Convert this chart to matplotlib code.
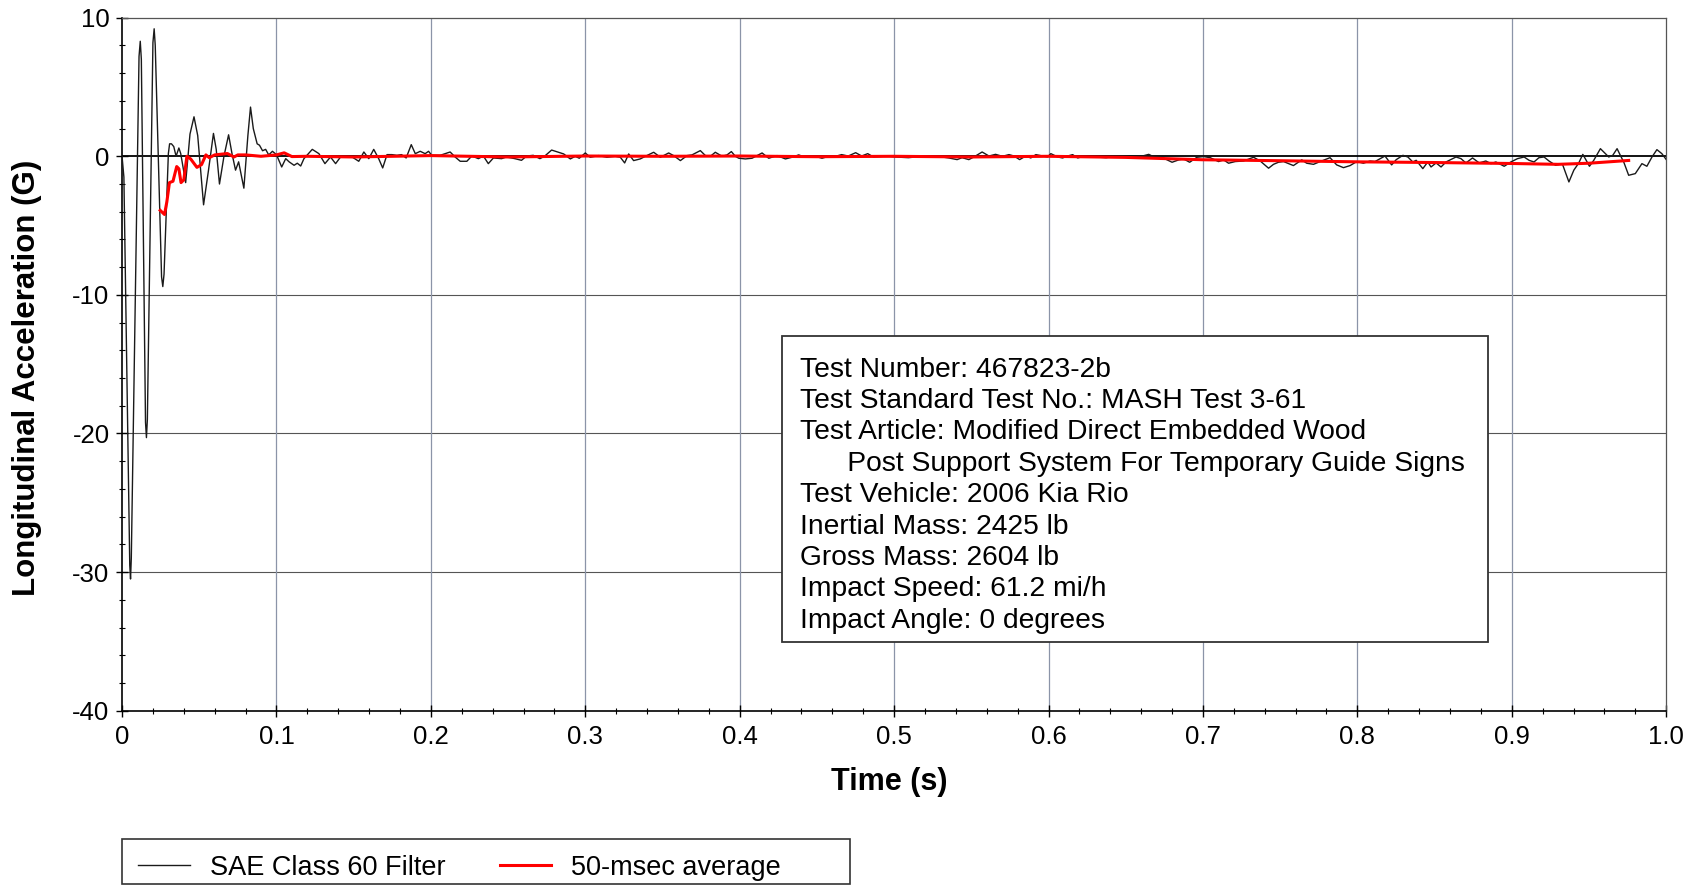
import matplotlib.pyplot as plt
from matplotlib.patches import Rectangle
from matplotlib.ticker import MultipleLocator, FixedLocator

plt.rcParams['font.family'] = ['Liberation Sans', 'DejaVu Sans']
plt.rcParams['axes.unicode_minus'] = False

# --------DATA--------

# SAE Class 60 filtered signal
t_sae = [0.0, 0.0012, 0.0050, 0.0055, 0.0060, 0.0110, 0.0118, 0.0125, 0.0152, 0.0158,
         0.0164, 0.0200, 0.0208, 0.0215, 0.0256, 0.0264, 0.0272, 0.0300, 0.0308, 0.0320,
         0.0335, 0.0350, 0.0368, 0.0380, 0.0412, 0.0440, 0.0466, 0.0490, 0.0528, 0.0560,
         0.0592, 0.0610, 0.0631, 0.0660, 0.0690, 0.0712, 0.0735, 0.0755, 0.0789, 0.0815,
         0.0832, 0.0850, 0.0875, 0.0890, 0.0910, 0.0930, 0.0950, 0.0974, 0.1000, 0.1034,
         0.1060, 0.1082, 0.1114, 0.1135, 0.1157, 0.1178, 0.1232, 0.1275, 0.1314, 0.1350,
         0.1383, 0.1415, 0.1447, 0.1490, 0.1533, 0.1566, 0.1598, 0.1630, 0.1662, 0.1688,
         0.1716, 0.1748, 0.1780, 0.1810, 0.1840, 0.1873, 0.1899, 0.1931, 0.1963, 0.1985,
         0.2006, 0.2060, 0.2125, 0.2157, 0.2190, 0.2233, 0.2265, 0.2308, 0.2340, 0.2372,
         0.2405, 0.2458, 0.2490, 0.2544, 0.2587, 0.2620, 0.2663, 0.2706, 0.2738, 0.2782,
         0.2827, 0.2860, 0.2903, 0.2935, 0.2961, 0.3000, 0.3032, 0.3086, 0.3140, 0.3194,
         0.3227, 0.3255, 0.3281, 0.3313, 0.3356, 0.3389, 0.3443, 0.3486, 0.3540, 0.3572,
         0.3616, 0.3659, 0.3691, 0.3745, 0.3778, 0.3810, 0.3842, 0.3886, 0.3918, 0.3946,
         0.3972, 0.3994, 0.4037, 0.4080, 0.4145, 0.4188, 0.4242, 0.4296, 0.4339, 0.4382,
         0.4425, 0.4490, 0.4533, 0.4577, 0.4605, 0.4660, 0.4703, 0.4751, 0.4790, 0.4829,
         0.4866, 0.4952, 0.5007, 0.5093, 0.5137, 0.5223, 0.5310, 0.5354, 0.5408, 0.5440,
         0.5484, 0.5527, 0.5570, 0.5614, 0.5657, 0.5701, 0.5744, 0.5777, 0.5813, 0.5852,
         0.5885, 0.5918, 0.5961, 0.5993, 0.6015, 0.6059, 0.6091, 0.6124, 0.6156, 0.6189,
         0.6232, 0.6308, 0.6373, 0.6438, 0.6595, 0.6649, 0.6692, 0.6746, 0.6800, 0.6843,
         0.6875, 0.6914, 0.6961, 0.7004, 0.7047, 0.7101, 0.7134, 0.7166, 0.7209, 0.7263,
         0.7328, 0.7371, 0.7425, 0.7457, 0.7489, 0.7522, 0.7586, 0.7640, 0.7672, 0.7716,
         0.7759, 0.7823, 0.7866, 0.7910, 0.7953, 0.7996, 0.8039, 0.8082, 0.8114, 0.8179,
         0.8222, 0.8252, 0.8295, 0.8327, 0.8359, 0.8381, 0.8424, 0.8456, 0.8477, 0.8510,
         0.8542, 0.8574, 0.8639, 0.8671, 0.8703, 0.8746, 0.8789, 0.8832, 0.8865, 0.8897,
         0.8951, 0.8994, 0.9037, 0.9080, 0.9112, 0.9144, 0.9176, 0.9209, 0.9241, 0.9284,
         0.9327, 0.9370, 0.9402, 0.9434, 0.9460, 0.9482, 0.9503, 0.9531, 0.9574, 0.9606,
         0.9628, 0.9654, 0.9682, 0.9703, 0.9725, 0.9757, 0.9800, 0.9843, 0.9875, 0.9908,
         0.9940, 0.9972, 1.0004]
g_sae = [0.0, -1.5, -29.5, -30.5, -29.0, 7.2, 8.3, 7.0, -19.2, -20.3,
         -19.0, 8.2, 9.2, 8.0, -8.7, -9.4, -8.5, 0.2, 0.9, 0.9,
         0.7, 0.0, 0.6, 0.2, -1.9, 1.6, 2.85, 1.5, -3.5, -1.0,
         1.65, 0.5, -2.0, 0.0, 1.55, 0.2, -1.0, -0.4, -2.3, 1.5,
         3.55, 2.0, 0.9, 0.8, 0.4, 0.5, 0.1, 0.36, 0.12, -0.77,
         -0.17, -0.4, -0.65, -0.5, -0.7, -0.17, 0.5, 0.19, -0.53, -0.05,
         -0.53, -0.05, 0.02, -0.05, -0.36, 0.31, -0.17, 0.5, -0.17, -0.84,
         0.12, 0.12, 0.07, 0.12, -0.12, 0.84, 0.19, 0.36, 0.19, 0.36,
         0.07, 0.07, 0.31, -0.05, -0.36, -0.36, 0.02, -0.17, 0.02, -0.53,
         -0.12, -0.17, -0.05, -0.17, -0.29, 0.02, 0.07, -0.17, 0.02, 0.45,
         0.29, 0.17, -0.19, 0.0, -0.14, 0.24, -0.07, 0.05, -0.07, 0.0,
         -0.07, -0.48, 0.17, -0.31, -0.19, 0.0, 0.29, -0.07, 0.24, 0.05,
         -0.31, 0.05, 0.1, 0.41, 0.05, 0.0, 0.29, 0.0, 0.1, 0.34,
         0.0, -0.14, -0.19, -0.14, 0.24, -0.14, 0.05, -0.19, -0.07, 0.1,
         -0.07, 0.0, -0.14, 0.0, -0.05, 0.12, 0.02, 0.26, 0.02, 0.19,
         -0.05, 0.02, -0.05, -0.1, -0.05, 0.0, -0.05, -0.12, -0.24, -0.1,
         -0.24, 0.02, 0.31, 0.02, 0.14, 0.0, 0.12, 0.02, -0.24, 0.02,
         -0.12, 0.12, 0.02, -0.05, 0.19, -0.05, -0.12, 0.02, 0.12, -0.12,
         0.02, -0.05, -0.1, 0.02, -0.02, 0.14, -0.1, -0.14, -0.43, -0.26,
         -0.19, -0.43, -0.07, -0.02, -0.1, -0.38, -0.26, -0.5, -0.38, -0.34,
         -0.07, -0.34, -0.86, -0.58, -0.43, -0.38, -0.67, -0.26, -0.5, -0.58,
         -0.38, -0.1, -0.62, -0.82, -0.67, -0.38, -0.5, -0.34, -0.38, 0.02,
         -0.62, -0.24, 0.07, -0.05, -0.41, -0.29, -0.89, -0.41, -0.77, -0.48,
         -0.77, -0.41, -0.05, -0.17, -0.48, -0.12, -0.48, -0.34, -0.53, -0.41,
         -0.72, -0.41, -0.17, -0.05, -0.29, -0.41, -0.1, -0.05, -0.34, -0.65,
         -0.53, -1.85, -1.0, -0.48, 0.14, -0.29, -0.72, -0.29, 0.55, 0.19,
         -0.05, 0.07, 0.55, 0.07, -0.41, -1.37, -1.25, -0.53, -0.72, -0.05,
         0.48, 0.19, -0.29]

# 50-msec moving average
t_avg = [0.0247, 0.0275, 0.0290, 0.0307, 0.0330, 0.0354, 0.0368, 0.0382, 0.0400, 0.0420,
         0.0445, 0.0485, 0.0515, 0.0543, 0.0565, 0.0600, 0.0682, 0.0725, 0.0750, 0.0800,
         0.0900, 0.0950, 0.1000, 0.1050, 0.1100, 0.1200, 0.1500, 0.2000, 0.2500, 0.3000,
         0.3500, 0.4000, 0.4500, 0.5000, 0.5500, 0.6000, 0.6500, 0.7000, 0.7500, 0.8000,
         0.8500, 0.9000, 0.9300, 0.9500, 0.9757]
g_avg = [-3.9, -4.2, -3.3, -1.9, -1.8, -0.74, -0.9, -1.9, -1.7, 0.0,
         -0.2, -0.8, -0.6, 0.1, -0.1, 0.1, 0.2, -0.05, 0.1, 0.1,
         0.0, 0.05, 0.1, 0.25, -0.02, 0.0, -0.05, 0.05, -0.05, 0.02,
         0.0, 0.02, -0.03, 0.0, -0.05, 0.0, -0.08, -0.25, -0.32, -0.4,
         -0.45, -0.52, -0.58, -0.5, -0.3]

x_ticks = [0, 0.1, 0.2, 0.3, 0.4, 0.5, 0.6, 0.7, 0.8, 0.9, 1.0]
x_tick_labels = ['0', '0.1', '0.2', '0.3', '0.4', '0.5', '0.6', '0.7', '0.8', '0.9', '1.0']
y_ticks = [-40, -30, -20, -10, 0, 10]

info_lines = [
    'Test Number: 467823-2b',
    'Test Standard Test No.: MASH Test 3-61',
    'Test Article: Modified Direct Embedded Wood',
    '      Post Support System For Temporary Guide Signs',
    'Test Vehicle: 2006 Kia Rio',
    'Inertial Mass: 2425 lb',
    'Gross Mass: 2604 lb',
    'Impact Speed: 61.2 mi/h',
    'Impact Angle: 0 degrees',
]

# --------FIGURE--------

fig = plt.figure(figsize=(16.95, 8.85), dpi=100)
ax = fig.add_axes([0.072, 0.197, 0.911, 0.783])

ax.set_xlim(0, 1.0)
ax.set_ylim(-40, 10)

# grid: horizontal dark, vertical blue-grey, zero line black
for y in y_ticks[1:-1]:
    if y == 0:
        continue
    ax.axhline(y, color='#555555', lw=0.8, zorder=0)
for x in x_ticks[1:-1]:
    ax.axvline(x, color='#8b94a8', lw=0.9, zorder=0)
ax.axhline(0, color='black', lw=1.3, zorder=1)

ax.plot(t_sae, g_sae, color='#1a1a1a', lw=1.0, label='SAE Class 60 Filter', zorder=3)
ax.plot(t_avg, g_avg, color='#ff0000', lw=2.2, label='50-msec average', zorder=4)

ax.xaxis.set_major_locator(FixedLocator(x_ticks))
ax.set_xticklabels(x_tick_labels)
ax.xaxis.set_minor_locator(MultipleLocator(0.02))
ax.yaxis.set_major_locator(FixedLocator(y_ticks))
ax.yaxis.set_minor_locator(MultipleLocator(2))

ax.tick_params(which='major', direction='inout', length=8, width=1, labelsize=18.5, pad=5)
ax.tick_params(which='minor', direction='inout', length=5, width=0.8)
ax.tick_params(axis='x', which='major', pad=6)

for side in ('left', 'bottom'):
    ax.spines[side].set_color('black')
    ax.spines[side].set_linewidth(1.2)
for side in ('top', 'right'):
    ax.spines[side].set_color('#555555')
    ax.spines[side].set_linewidth(0.9)

ax.set_xlabel('Time (s)', fontsize=22, fontweight='bold')
ax.set_ylabel('Longitudinal Acceleration (G)', fontsize=22.5, fontweight='bold')
ax.xaxis.set_label_coords(0.497, -0.081)
ax.yaxis.set_label_coords(-0.052, 0.48)

# info box
ax.add_patch(Rectangle((0.4275, 0.0995), 0.4572, 0.4411, transform=ax.transAxes,
                       facecolor='white', edgecolor='#333333', lw=1.3, zorder=5))
ax.text(0.439, 0.511, '\n'.join(info_lines), transform=ax.transAxes, ha='left', va='top',
        fontsize=20.3, linespacing=1.27, zorder=6)

# legend: own frame, entries placed inside it
fig.add_artist(Rectangle((0.072, 0.001), 0.4295, 0.051, transform=fig.transFigure,
                         facecolor='white', edgecolor='#333333', lw=1.2))
fig.legend(loc='center left', bbox_to_anchor=(0.0815, 0.0195), ncol=2, fontsize=19.5,
           frameon=False, handlelength=1.9, handletextpad=0.75, columnspacing=2.0,
           borderpad=0, borderaxespad=0)

fig.savefig('out.png', dpi=100)
